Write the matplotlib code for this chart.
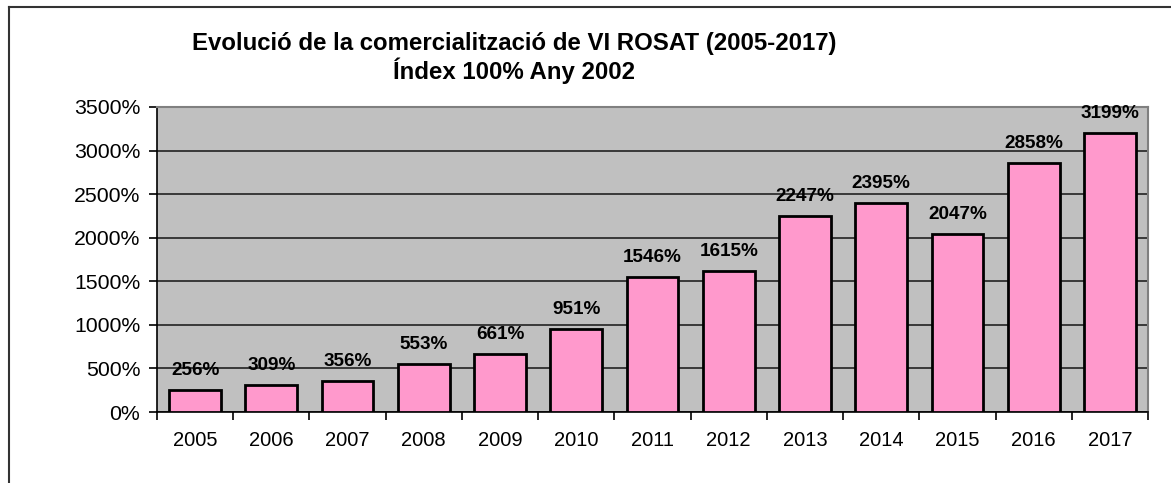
import numpy as np
import matplotlib
matplotlib.use('Agg')
import matplotlib.pyplot as plt
from matplotlib.lines import Line2D

# ─── data ────────────────────────────────────────────────
years  = ['2005', '2006', '2007', '2008', '2009', '2010', '2011',
          '2012', '2013', '2014', '2015', '2016', '2017']
values = [256, 309, 356, 553, 661, 951, 1546, 1615, 2247, 2395, 2047, 2858, 3199]
yticks = [0, 500, 1000, 1500, 2000, 2500, 3000, 3500]

title = 'Evolució de la comercialització de VI ROSAT (2005-2017)\nÍndex 100% Any 2002'

plt.rcParams['font.family'] = ['Liberation Sans', 'DejaVu Sans']

W, H = 1171, 483
fig = plt.figure(figsize=(W / 100, H / 100), dpi=100)

# plot area in pixel coords
x0, x1, y0, y1 = 157, 1148, 107, 412
ax = fig.add_axes([x0 / W, 1 - y1 / H, (x1 - x0) / W, (y1 - y0) / H])
ax.set_facecolor('#C0C0C0')

x = np.arange(len(years))
ax.bar(x, values, width=0.68, color='#FF99CC', edgecolor='black',
       linewidth=2, zorder=3)

for xi, v in zip(x, values):
    ax.annotate(f'{v}%', (xi, v), xytext=(0, 8), textcoords='offset points',
                ha='center', va='bottom', fontsize=13.6, fontweight='bold',
                zorder=4)

ax.set_xlim(-0.5, len(years) - 0.5)
ax.set_ylim(0, 3500)
ax.set_yticks(yticks)
ax.set_yticklabels([f'{t}%' for t in yticks], fontsize=15.3)
ax.set_xticks(x)
ax.set_xticklabels(years, fontsize=14.5)
ax.set_xticks(np.arange(len(years) + 1) - 0.5, minor=True)
ax.tick_params(axis='x', which='major', length=0, pad=14)
ax.tick_params(axis='x', which='minor', length=6, width=1.2, direction='out')
ax.tick_params(axis='y', length=6, width=1.2, direction='out', pad=6)

ax.yaxis.grid(True, color='#222222', linewidth=1.2, zorder=1)
ax.set_axisbelow(True)

for side in ('top', 'right'):
    ax.spines[side].set_color('#808080')
    ax.spines[side].set_linewidth(1.5)
for side in ('left', 'bottom'):
    ax.spines[side].set_color('black')
    ax.spines[side].set_linewidth(1.2)

fig.text(514 / W, 1 - 58 / H, title, ha='center', va='center',
         fontsize=17.3, fontweight='bold', linespacing=1.12)

# chart frame (left and top edges visible)
fig.add_artist(Line2D([9 / W, 9 / W], [0, 1 - 7 / H], color='#333333',
                      linewidth=1.5, transform=fig.transFigure))
fig.add_artist(Line2D([9 / W, 1], [1 - 7 / H, 1 - 7 / H], color='#333333',
                      linewidth=1.5, transform=fig.transFigure))

fig.savefig('out.png', dpi=100)
